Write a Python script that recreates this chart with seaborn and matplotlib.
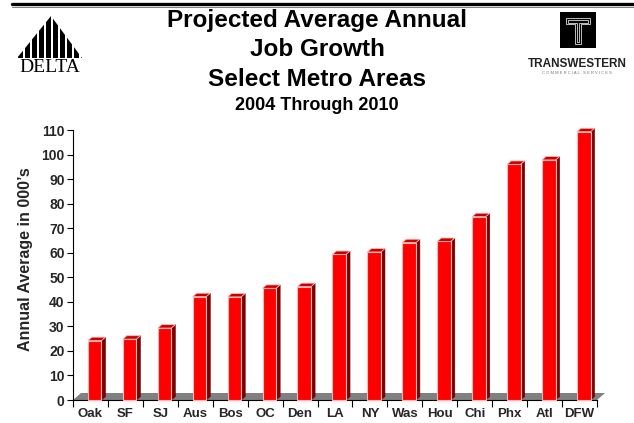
import matplotlib
matplotlib.use('Agg')
import matplotlib.pyplot as plt
import seaborn as sns
import pandas as pd
import numpy as np
from matplotlib.patches import Polygon, Rectangle

# ---------------- data ----------------
metros = ['Oak', 'SF', 'SJ', 'Aus', 'Bos', 'OC', 'Den', 'LA', 'NY', 'Was',
          'Hou', 'Chi', 'Phx', 'Atl', 'DFW']
growth = [24.2, 24.8, 29.3, 42.1, 42.0, 45.5, 46.2, 59.3, 60.3, 64.1,
          64.6, 74.7, 96.0, 97.8, 109.3]
yticks = list(range(0, 111, 10))
title_lines = ['Projected Average Annual', 'Job Growth', 'Select Metro Areas']
subtitle = '2004 Through 2010'
ylabel = 'Annual Average in 000\u2019s'

# ---------------- style ----------------
sns.set_theme(style='white')
plt.rcParams['font.family'] = ['Liberation Sans', 'DejaVu Sans']

W, H = 634, 423
fig = plt.figure(figsize=(W / 100, H / 100), dpi=100)
fig.patch.set_facecolor('white')

# top rule
fig.add_artist(plt.Line2D([12 / W, 1], [1 - 4 / H, 1 - 4 / H], color='black', lw=2.4))
fig.add_artist(plt.Line2D([12 / W, 1], [1 - 7.5 / H, 1 - 7.5 / H], color='#808080', lw=0.7))

# titles
ys = [21, 49.5, 79]
for t, y in zip(title_lines, ys):
    fig.text(317 / W, 1 - y / H, t, ha='center', va='center', fontsize=17.5,
             fontweight='bold', color='black')
fig.text(317 / W, 1 - 106 / H, subtitle, ha='center', va='center', fontsize=13,
         fontweight='bold', color='black')

# ---------------- chart ----------------
ax = fig.add_axes([73 / W, (H - 400) / H, 524 / W, 270 / H])
df = pd.DataFrame({'metro': metros, 'growth': growth})
sns.barplot(data=df, x='metro', y='growth', color='#FF0000', saturation=1,
            width=0.39, edgecolor='#FFB8B8', linewidth=0.8, ax=ax, zorder=3)

ax.set_xlim(-0.5, len(metros) - 0.5)
ax.set_ylim(0, 110)

# floor
fdx, fdy = 0.23, 2.85
floor = Polygon([(-0.5, 0), (len(metros) - 0.5, 0),
                 (len(metros) - 0.5 + fdx, fdy), (-0.5 + fdx, fdy)],
                closed=True, facecolor='#808080', edgecolor='none',
                zorder=1, clip_on=False)
ax.add_patch(floor)

# 3D effect for bars
shift = 0.12
dx, dy = 0.115, 1.4
for p in ax.patches[:]:
    if p is floor:
        continue
    x0 = p.get_x() + shift
    p.set_x(x0)
    x1 = x0 + p.get_width()
    h = p.get_height()
    side = Polygon([(x1, 0), (x1 + dx, dy), (x1 + dx, h + dy), (x1, h)],
                   closed=True, facecolor='#800000', edgecolor='#600000',
                   lw=0.4, zorder=2.9, clip_on=False)
    top = Polygon([(x0, h), (x0 + dx, h + dy), (x1 + dx, h + dy), (x1, h)],
                  closed=True, facecolor='#C80000', edgecolor='#FFB8B8',
                  lw=0.6, zorder=3.1, clip_on=False)
    ax.add_patch(side)
    ax.add_patch(top)
    p.set_clip_on(False)

ax.set_yticks(yticks)
ax.set_yticklabels([str(v) for v in yticks], fontsize=10, fontweight='bold')
ax.set_xticks(range(len(metros)))
ax.set_xticklabels(metros, fontsize=9.5, fontweight='bold')
ax.set_xticks(np.arange(-0.5, len(metros), 1), minor=True)
ax.tick_params(axis='x', which='major', length=0, pad=6)
ax.tick_params(axis='x', which='minor', length=5, width=0.8, color='black',
               direction='out', bottom=True)
ax.tick_params(axis='y', which='major', length=4, width=0.8, color='black',
               direction='out', left=True, pad=2)
for s in ['top', 'right']:
    ax.spines[s].set_visible(False)
for s in ['left', 'bottom']:
    ax.spines[s].set_color('black')
    ax.spines[s].set_linewidth(0.8)
ax.set_xlabel('')
ax.set_ylabel(ylabel, fontsize=11.5, fontweight='bold')
ax.yaxis.set_label_coords(-40 / 524, 0.52)
ax.set_facecolor('white')

# ---------------- DELTA logo ----------------
lg = fig.add_axes([17 / W, 1 - 58 / H, 65 / W, 42 / H])
lg.set_xlim(0, 65)
lg.set_ylim(0, 42)
lg.axis('off')
tri = Polygon([(0, 0), (65, 0), (34, 42)], closed=True, facecolor='none',
              edgecolor='none', transform=lg.transData)
lg.add_patch(tri)
x = 0.5
while x < 65:
    r = Rectangle((x, 0), 5.4, 42, facecolor='black', edgecolor='none')
    lg.add_patch(r)
    r.set_clip_path(tri)
    x += 7.0
fig.text(50 / W, 1 - 67 / H, 'DELTA', ha='center', va='center', fontsize=14,
         family=['Liberation Serif', 'DejaVu Serif'], color='black')

# ---------------- TRANSWESTERN logo ----------------
tw = fig.add_axes([560 / W, 1 - 48 / H, 36 / W, 36 / H])
tw.set_xlim(0, 35)
tw.set_ylim(0, 35)
tw.axis('off')
tw.add_patch(Rectangle((0, 0), 35, 35, facecolor='black', edgecolor='none'))
for inset in (0, 1.6):
    t_shape = [(6 + inset, 29 - inset), (29 - inset, 29 - inset), (29 - inset, 23 + inset),
               (20.5 - inset, 23 + inset), (20.5 - inset, 4 + inset), (14.5 + inset, 4 + inset),
               (14.5 + inset, 23 + inset), (6 + inset, 23 + inset)]
    tw.add_patch(Polygon(t_shape, closed=True, facecolor='none', edgecolor='#DDDDDD', lw=0.6))
fig.text(577 / W, 1 - 64 / H, 'TRANSWESTERN', ha='center', va='center', fontsize=8.5,
         fontweight='bold', color='#222222')
fig.text(577 / W, 1 - 73 / H, 'C O M M E R C I A L   S E R V I C E S', ha='center',
         va='center', fontsize=3, color='#777777')

fig.savefig('out.png', dpi=100)
